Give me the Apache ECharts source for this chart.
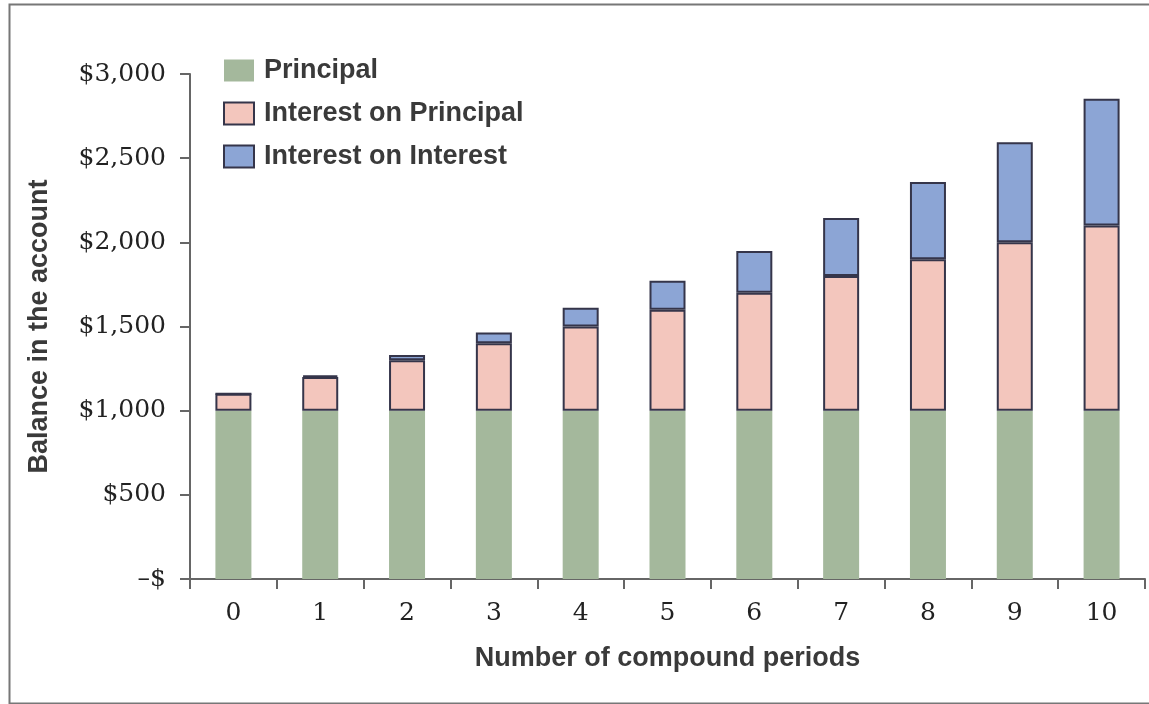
<!DOCTYPE html>
<html>
<head>
<meta charset="utf-8">
<script src="https://cdn.jsdelivr.net/npm/echarts@6/dist/echarts.min.js"></script>
<style>
  html, body { margin: 0; padding: 0; background: #fff; }
  #main { width: 1149px; height: 704px; }
</style>
</head>
<body>
<div id="main"></div>
<script>
// periods on the x axis
var periods = ['0', '1', '2', '3', '4', '5', '6', '7', '8', '9', '10'];
// stacked pieces
var principal = [1000, 1000, 1000, 1000, 1000, 1000, 1000, 1000, 1000, 1000, 1000];
var interestOnPrincipal = [100, 200, 300, 400, 500, 600, 700, 800, 900, 1000, 1100];
var interestOnInterest = [0, 10, 31, 64, 111, 172, 249, 344, 458, 594, 753];
// y tick labels, from 0 up in steps of 500
var yTickLabels = ['\u2013$', '$500', '$1,000', '$1,500', '$2,000', '$2,500', '$3,000'];

var serif = 'DejaVu Serif';
var sans = 'Liberation Sans';
var edge = '#35354a';

var option = {
  animation: false,
  backgroundColor: '#fff',
  graphic: [{
    type: 'rect',
    left: 7, top: 2,
    shape: { width: 1200, height: 699 },
    style: { fill: 'none', stroke: '#777', lineWidth: 2 }
  }],
  legend: {
    orient: 'vertical',
    left: 218, top: 52,
    itemWidth: 30, itemHeight: 22,
    itemGap: 16,
    icon: 'rect',
    textStyle: { fontFamily: sans, fontWeight: 'bold', fontSize: 27, color: '#3a3a3a', padding: [0, 0, 0, 5] },
    data: ['Principal', 'Interest on Principal', 'Interest on Interest']
  },
  grid: { left: 190, right: 4, top: 74, bottom: 125, outerBoundsMode: 'none' },
  xAxis: {
    type: 'category',
    data: periods,
    name: 'Number of compound periods',
    nameLocation: 'middle',
    nameGap: 66,
    nameTextStyle: { fontFamily: sans, fontWeight: 'bold', fontSize: 27, color: '#3a3a3a' },
    axisLine: { lineStyle: { color: '#666', width: 2 } },
    axisTick: { show: true, length: 10, lineStyle: { color: '#666', width: 2 } },
    axisLabel: { margin: 22, fontFamily: serif, fontSize: 25, color: '#222' }
  },
  yAxis: {
    type: 'value',
    min: 0, max: 3000, interval: 500,
    name: 'Balance in the account',
    nameLocation: 'middle',
    nameGap: 137,
    nameTextStyle: { fontFamily: sans, fontWeight: 'bold', fontSize: 27, color: '#3a3a3a' },
    axisLine: { show: true, lineStyle: { color: '#666', width: 2 } },
    axisTick: { show: true, length: 10, lineStyle: { color: '#666', width: 2 } },
    splitLine: { show: false },
    axisLabel: {
      margin: 24, fontFamily: serif, fontSize: 25, color: '#222',
      formatter: function (v) { return yTickLabels[Math.round(v / 500)]; }
    }
  },
  series: [
    {
      name: 'Principal', type: 'bar', stack: 'total', barWidth: 36,
      itemStyle: { color: '#a4b89c' },
      data: principal
    },
    {
      name: 'Interest on Principal', type: 'bar', stack: 'total', barWidth: 36,
      itemStyle: { color: '#f3c6bd', borderColor: edge, borderWidth: 2 },
      data: interestOnPrincipal
    },
    {
      name: 'Interest on Interest', type: 'bar', stack: 'total', barWidth: 36,
      itemStyle: { color: '#8ca5d5', borderColor: edge, borderWidth: 2 },
      data: interestOnInterest
    }
  ]
};

var myChart = echarts.init(document.getElementById('main'));
myChart.setOption(option);
</script>
</body>
</html>
